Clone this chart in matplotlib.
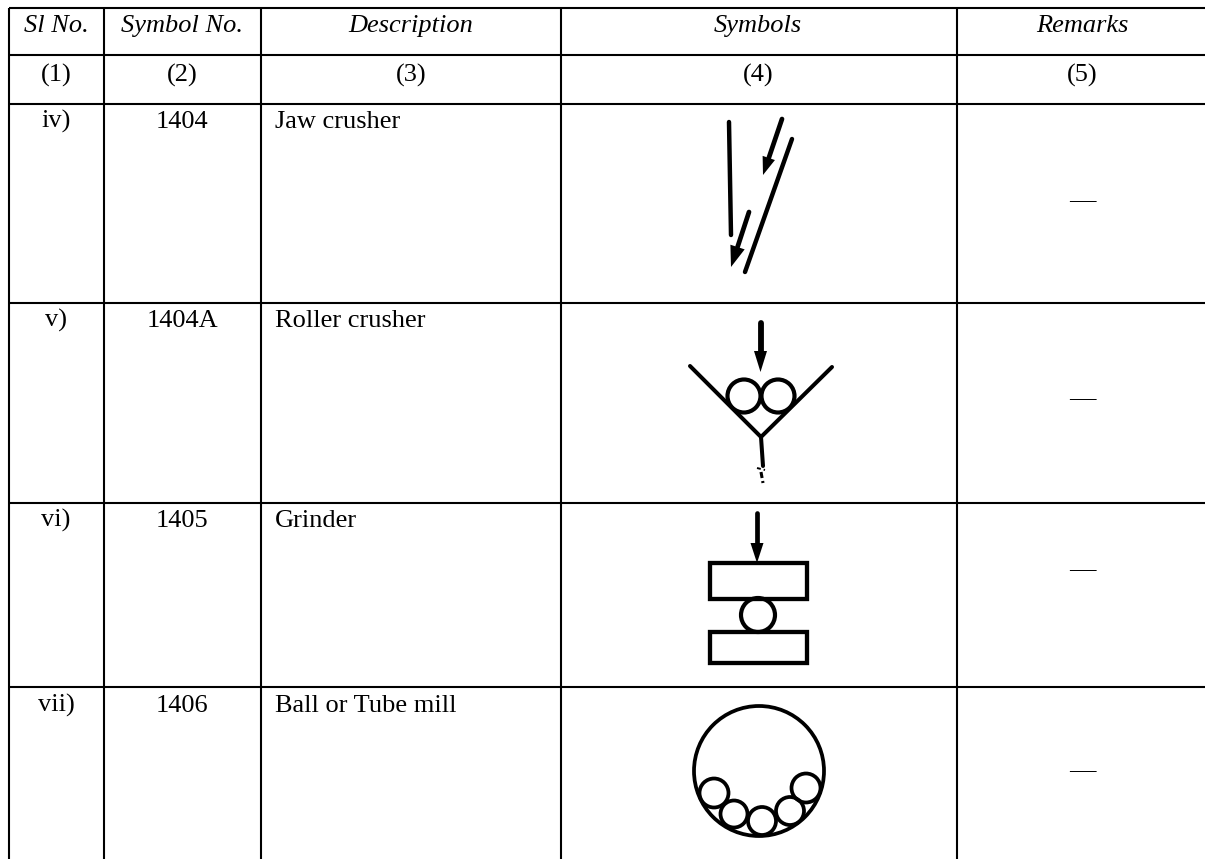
import matplotlib

matplotlib.use("Agg")
import matplotlib.pyplot as plt
from matplotlib.patches import Circle, Polygon, Rectangle

W, H = 1205, 859
INK = "#000000"

# table grid (pixels of the picture)
col_edges = [8.5, 104, 261, 561, 957]
row_edges = [8, 55, 104, 303, 503, 687]
grid_right = 1205
grid_bottom = 859

headers = ["Sl No.", "Symbol No.", "Description", "Symbols", "Remarks"]
col_numbers = ["(1)", "(2)", "(3)", "(4)", "(5)"]
sl_nos = ["iv)", "v)", "vi)", "vii)"]
symbol_nos = ["1404", "1404A", "1405", "1406"]
descriptions = ["Jaw crusher", "Roller crusher", "Grinder", "Ball or Tube mill"]

col_centers = [56, 182, 411, 758, 1082]
desc_left = 275
header_base = 32
number_base = 82
row_base = [128, 327, 527, 712]
dash_base = [206, 404, 575, 776]

# (x0, y0, x1, y1)
jaw_lines = [(729, 122, 731, 235), (792, 139, 745, 272)]
jaw_arrows = [(782, 119, 763, 175, 18, 13), (749, 212, 731, 267, 21, 15)]

roller_lines = [(690, 366, 761, 437), (832, 367, 761, 437), (761, 437, 763, 466)]
roller_arrow = (760.5, 323, 760.5, 372, 21, 13)
roller_circles = [(744, 396, 16.5), (778, 396, 16.5)]

grinder_arrow = (757, 513, 757, 563, 20, 13)
grinder_rects = [(710, 563, 97, 36), (710, 632, 97, 31)]
grinder_circle = (758, 615, 17)

mill_circles = [
    (759, 771, 65),
    (714, 793, 14.5),
    (734, 814, 13.5),
    (762, 821, 14),
    (790, 811, 14),
    (806, 788, 14.5),
]


def draw_arrow(ax, spec, lw=3.4):
    x0, y0, x1, y1, head_len, head_w = spec
    dx, dy = x1 - x0, y1 - y0
    d = (dx * dx + dy * dy) ** 0.5
    ux, uy = dx / d, dy / d
    bx, by = x1 - ux * head_len, y1 - uy * head_len
    ax.plot([x0, bx], [y0, by], color=INK, lw=lw, solid_capstyle="round")
    ax.add_patch(
        Polygon(
            [
                (x1, y1),
                (bx - uy * head_w / 2, by + ux * head_w / 2),
                (bx + uy * head_w / 2, by - ux * head_w / 2),
            ],
            closed=True,
            color=INK,
            lw=0,
        )
    )


def draw_circle(ax, c, lw=2.7):
    ax.add_patch(Circle(c[:2], c[2], fill=False, ec=INK, lw=lw))


plt.rcParams["font.family"] = ["Liberation Serif", "DejaVu Serif"]
FS = 19

fig = plt.figure(figsize=(W / 100, H / 100), dpi=100, facecolor="white")
ax = fig.add_axes([0, 0, 1, 1])
ax.set_xlim(0, W)
ax.set_ylim(H, 0)
ax.axis("off")

ax.hlines(row_edges, col_edges[0], grid_right, color=INK, lw=1.5)
ax.vlines(col_edges, row_edges[0], grid_bottom, color=INK, lw=1.5)

for x, head, num in zip(col_centers, headers, col_numbers):
    ax.text(x, header_base, head, ha="center", va="baseline", fontsize=FS, style="italic")
    ax.text(x, number_base, num, ha="center", va="baseline", fontsize=FS)

for i in range(4):
    y = row_base[i]
    ax.text(col_centers[0], y, sl_nos[i], ha="center", va="baseline", fontsize=FS)
    ax.text(col_centers[1], y, symbol_nos[i], ha="center", va="baseline", fontsize=FS)
    ax.text(desc_left, y, descriptions[i], ha="left", va="baseline", fontsize=FS)
    ax.text(col_centers[4], dash_base[i], "\u2014", ha="center", va="baseline", fontsize=FS)

# jaw crusher
for x0, y0, x1, y1 in jaw_lines:
    ax.plot([x0, x1], [y0, y1], color=INK, lw=3.2, solid_capstyle="round")
for spec in jaw_arrows:
    draw_arrow(ax, spec)

# roller crusher
for x0, y0, x1, y1 in roller_lines:
    ax.plot([x0, x1], [y0, y1], color=INK, lw=2.9, solid_capstyle="round")
draw_arrow(ax, roller_arrow, lw=4.2)
for c in roller_circles:
    draw_circle(ax, c, lw=3)
# faded arrow tip under the stem
ax.plot([757, 765], [468, 470], color=INK, lw=1.4, ls=(0, (2, 1.5)))
ax.plot([761, 763], [472, 483], color=INK, lw=2.2, ls=(0, (2, 1)))

# grinder
draw_arrow(ax, grinder_arrow)
for x, y, w, h in grinder_rects:
    ax.add_patch(Rectangle((x, y), w, h, fill=False, ec=INK, lw=3.1))
draw_circle(ax, grinder_circle, lw=3)

# ball or tube mill
for c in mill_circles:
    draw_circle(ax, c)

fig.savefig("out.png", dpi=100)
